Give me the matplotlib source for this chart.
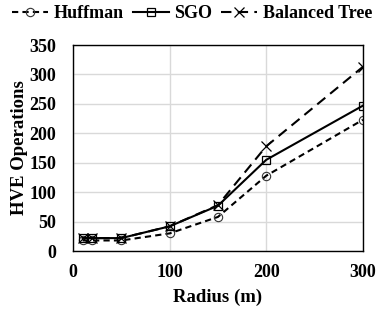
import matplotlib
matplotlib.use("Agg")
import matplotlib.pyplot as plt

radius = [10, 20, 50, 100, 150, 200, 300]
huffman = [18, 18, 18, 30, 58, 128, 223]
sgo = [22, 22, 22, 42, 77, 155, 247]
balanced = [22, 22, 22, 42, 78, 178, 313]

plt.rcParams['font.family'] = ['Liberation Serif', 'DejaVu Serif']
plt.rcParams['font.weight'] = 'bold'

fig = plt.figure(figsize=(3.84, 3.15), dpi=100)
ax = fig.add_axes([0.19, 0.203, 0.755, 0.654])

ax.plot(radius, huffman, color='black', linestyle=(0, (3, 2)), linewidth=1.5,
        marker='o', markersize=6, markerfacecolor='none', markeredgecolor='#333333',
        markeredgewidth=0.8, label='Huffman')
ax.plot(radius, sgo, color='black', linestyle='-', linewidth=1.5,
        marker='s', markersize=6, markerfacecolor='none', markeredgecolor='black',
        markeredgewidth=0.9, label='SGO')
ax.plot(radius, balanced, color='black', linestyle=(0, (5, 3)), linewidth=1.5,
        marker='x', markersize=7, markeredgecolor='black',
        markeredgewidth=0.9, label='Balanced Tree')

ax.set_xlim(0, 300)
ax.set_ylim(0, 350)
ax.set_xticks([0, 100, 200, 300])
ax.set_yticks(range(0, 351, 50))
ax.grid(True, color='#d9d9d9', linewidth=1)
ax.set_axisbelow(True)
ax.tick_params(axis='y', labelsize=13, length=0, pad=12)
ax.tick_params(axis='x', labelsize=13, length=0, pad=9)
for s in ax.spines.values():
    s.set_color('black')
    s.set_linewidth(1.0)

ax.set_xlabel('Radius (m)', fontsize=13.5, fontweight='bold', labelpad=6)
ax.set_ylabel('HVE Operations', fontsize=13.5, fontweight='bold', labelpad=1)

fig.legend(loc='upper center', bbox_to_anchor=(0.5, 1.035), ncol=3, frameon=False,
           prop={'size': 13, 'weight': 'bold'}, handlelength=2.0, handletextpad=0.3,
           columnspacing=0.5)

fig.savefig('out.png', dpi=100)
